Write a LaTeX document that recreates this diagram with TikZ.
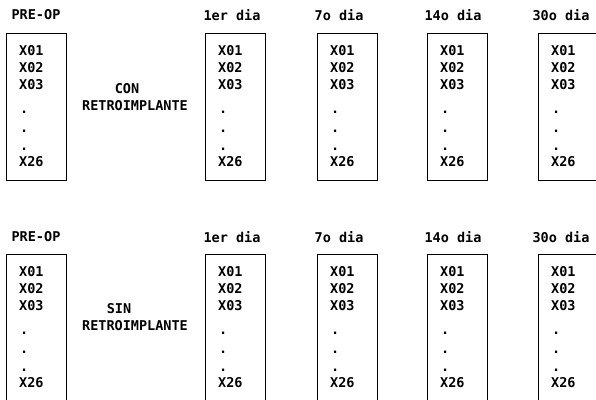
\documentclass[tikz,border=0pt]{standalone}
\usepackage{fontspec}
\setmainfont{DejaVu Sans Mono}
\newcommand{\tcol}[4]{%
  \node[colbox, minimum height=#4] (#1) at (#2,#3) {};
  \node[item] (#1x1) at (#2+13,#3+18) {X01};
  \node[item] (#1x2) at (#2+13,#3+35) {X02};
  \node[item] (#1x3) at (#2+13,#3+52) {X03};
  \node[dotitem] (#1d1) at (#2+14,#3+79) {.};
  \node[dotitem] (#1d2) at (#2+14,#3+98) {.};
  \node[dotitem] (#1d3) at (#2+14,#3+116) {.};
  \node[item] (#1x4) at (#2+13,#3+129) {X26};
}
\begin{document}
\begin{tikzpicture}[x=1pt,y=-1pt,
  font=\bfseries\fontsize{13.5}{15}\selectfont,
  colbox/.style={draw, line width=1.2pt, minimum width=60pt, anchor=north west, inner sep=0pt},
  item/.style={anchor=west, inner sep=0pt},
  dotitem/.style={anchor=west, inner sep=0pt},
  lbl/.style={inner sep=0pt}]
\useasboundingbox (0,0) rectangle (596,399);
\clip (0,0) rectangle (596,399);
% top row
\node[lbl] (tpre) at (36,15) {PRE-OP};
\node[lbl] (t1) at (232,15) {1er dia};
\node[lbl] (t7) at (339,15) {7o dia};
\node[lbl] (t14) at (453,15) {14o dia};
\node[lbl] (t30) at (561,15) {30o dia};
\tcol{ta}{6}{33}{147pt}
\tcol{tb}{205}{33}{147pt}
\tcol{tc}{317}{33}{147pt}
\tcol{td}{427}{33}{147pt}
\tcol{te}{538}{33}{147pt}
\node[lbl] (tcon) at (127,89) {CON};
\node[lbl] (tret) at (135,106) {RETROIMPLANTE};
% bottom row
\node[lbl] (bpre) at (36,237) {PRE-OP};
\node[lbl] (b1) at (232,237) {1er dia};
\node[lbl] (b7) at (339,237) {7o dia};
\node[lbl] (b14) at (453,237) {14o dia};
\node[lbl] (b30) at (561,237) {30o dia};
\tcol{ba}{6}{254}{160pt}
\tcol{bb}{205}{254}{160pt}
\tcol{bc}{317}{254}{160pt}
\tcol{bd}{427}{254}{160pt}
\tcol{be}{538}{254}{160pt}
\node[lbl] (bsin) at (119,309) {SIN};
\node[lbl] (bret) at (135,326) {RETROIMPLANTE};
\end{tikzpicture}
\end{document}
